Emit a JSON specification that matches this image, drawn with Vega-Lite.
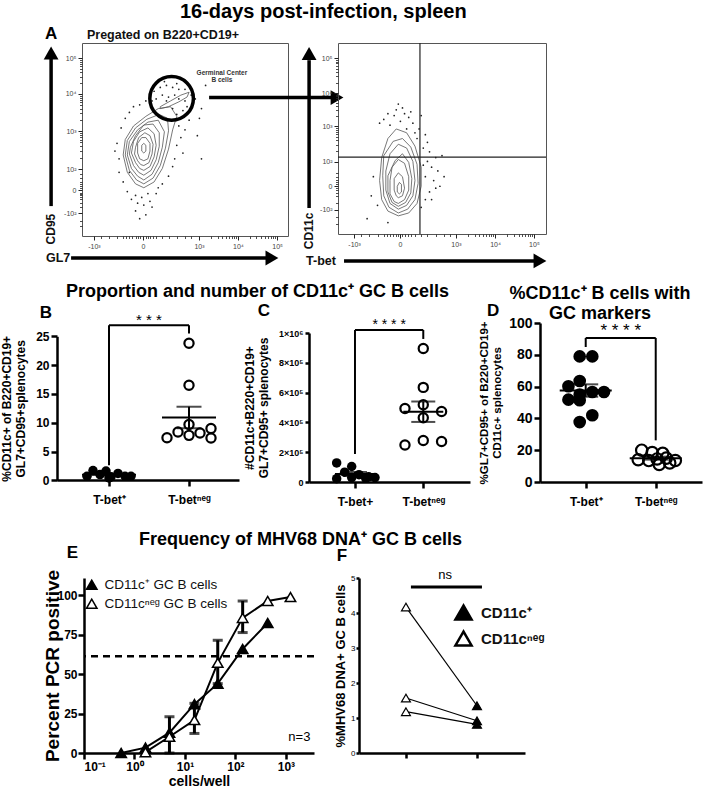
{
"$schema":"https://vega.github.io/schema/vega-lite/v6.json",
"background":"white",
"padding":{"left":0,"top":2,"right":2,"bottom":0},
"title":{"text":"16-days post-infection, spleen","fontSize":20,"fontWeight":"bold","anchor":"middle","offset":2,"dx":-28},
"spacing":13,
"resolve":{"scale":{"fill":"independent"},"legend":{"fill":"independent"}},
"datasets":{
"ringsL":[
{"r":1,"i":0,"x":30,"y":25},{"r":1,"i":1,"x":35,"y":28},{"r":1,"i":2,"x":39,"y":35},{"r":1,"i":3,"x":42,"y":45},{"r":1,"i":4,"x":44,"y":55},{"r":1,"i":5,"x":46,"y":62},{"r":1,"i":6,"x":43,"y":67},{"r":1,"i":7,"x":37,"y":66},{"r":1,"i":8,"x":31,"y":62},{"r":1,"i":9,"x":25,"y":57},{"r":1,"i":10,"x":21,"y":50},{"r":1,"i":11,"x":20,"y":42},{"r":1,"i":12,"x":22,"y":33},{"r":1,"i":13,"x":26,"y":27},{"r":1,"i":14,"x":30,"y":25},
{"r":7,"i":0,"x":30,"y":27},{"r":7,"i":1,"x":34.5,"y":30},{"r":7,"i":2,"x":38,"y":36.5},{"r":7,"i":3,"x":40.5,"y":45.5},{"r":7,"i":4,"x":42,"y":54.5},{"r":7,"i":5,"x":41.5,"y":61},{"r":7,"i":6,"x":37.5,"y":63},{"r":7,"i":7,"x":31.5,"y":60.5},{"r":7,"i":8,"x":26,"y":56},{"r":7,"i":9,"x":22,"y":49.5},{"r":7,"i":10,"x":21,"y":42},{"r":7,"i":11,"x":23,"y":34},{"r":7,"i":12,"x":26.5,"y":29},{"r":7,"i":13,"x":30,"y":27},
{"r":2,"i":0,"x":30,"y":29},{"r":2,"i":1,"x":34,"y":32},{"r":2,"i":2,"x":37,"y":38},{"r":2,"i":3,"x":39,"y":46},{"r":2,"i":4,"x":40,"y":54},{"r":2,"i":5,"x":37,"y":60},{"r":2,"i":6,"x":32,"y":59},{"r":2,"i":7,"x":27,"y":55},{"r":2,"i":8,"x":23,"y":49},{"r":2,"i":9,"x":22,"y":42},{"r":2,"i":10,"x":24,"y":35},{"r":2,"i":11,"x":27,"y":31},{"r":2,"i":12,"x":30,"y":29},
{"r":8,"i":0,"x":30,"y":31.5},{"r":8,"i":1,"x":33.5,"y":34},{"r":8,"i":2,"x":36,"y":39.5},{"r":8,"i":3,"x":37.5,"y":46.5},{"r":8,"i":4,"x":37.5,"y":53.5},{"r":8,"i":5,"x":34.5,"y":58},{"r":8,"i":6,"x":30,"y":57.5},{"r":8,"i":7,"x":26,"y":52},{"r":8,"i":8,"x":23.5,"y":46},{"r":8,"i":9,"x":23,"y":42.5},{"r":8,"i":10,"x":25,"y":36.5},{"r":8,"i":11,"x":27.5,"y":33},{"r":8,"i":12,"x":30,"y":31.5},
{"r":3,"i":0,"x":30,"y":34},{"r":3,"i":1,"x":33,"y":36},{"r":3,"i":2,"x":35,"y":41},{"r":3,"i":3,"x":36,"y":47},{"r":3,"i":4,"x":35,"y":53},{"r":3,"i":5,"x":32,"y":56},{"r":3,"i":6,"x":28,"y":54},{"r":3,"i":7,"x":25,"y":49},{"r":3,"i":8,"x":24,"y":43},{"r":3,"i":9,"x":26,"y":38},{"r":3,"i":10,"x":28,"y":35},{"r":3,"i":11,"x":30,"y":34},
{"r":9,"i":0,"x":30,"y":36.5},{"r":9,"i":1,"x":32.5,"y":38},{"r":9,"i":2,"x":34,"y":42.5},{"r":9,"i":3,"x":34.5,"y":47.5},{"r":9,"i":4,"x":33,"y":52},{"r":9,"i":5,"x":30.5,"y":53.5},{"r":9,"i":6,"x":27.5,"y":51},{"r":9,"i":7,"x":26,"y":46},{"r":9,"i":8,"x":25.5,"y":42.5},{"r":9,"i":9,"x":27,"y":39},{"r":9,"i":10,"x":28.5,"y":37},{"r":9,"i":11,"x":30,"y":36.5},
{"r":4,"i":0,"x":30,"y":39},{"r":4,"i":1,"x":32,"y":40},{"r":4,"i":2,"x":33,"y":44},{"r":4,"i":3,"x":33,"y":48},{"r":4,"i":4,"x":31,"y":51},{"r":4,"i":5,"x":29,"y":51},{"r":4,"i":6,"x":27,"y":48},{"r":4,"i":7,"x":27,"y":43},{"r":4,"i":8,"x":28,"y":40},{"r":4,"i":9,"x":30,"y":39},
{"r":5,"i":0,"x":30,"y":43},{"r":5,"i":1,"x":31,"y":44},{"r":5,"i":2,"x":31,"y":47},{"r":5,"i":3,"x":30,"y":48},{"r":5,"i":4,"x":29,"y":47},{"r":5,"i":5,"x":29,"y":44},{"r":5,"i":6,"x":30,"y":43},
{"r":6,"i":0,"x":38,"y":67},{"r":6,"i":1,"x":43,"y":70},{"r":6,"i":2,"x":48,"y":73},{"r":6,"i":3,"x":52,"y":74.5},{"r":6,"i":4,"x":51,"y":72},{"r":6,"i":5,"x":47,"y":69.5},{"r":6,"i":6,"x":42,"y":67},{"r":6,"i":7,"x":38,"y":66},{"r":6,"i":8,"x":38,"y":67}
],
"dotsL":[
{"x":18,"y":40},{"x":17,"y":48},{"x":19,"y":56},{"x":21,"y":61},{"x":23,"y":64},{"x":25,"y":67},{"x":28,"y":68},{"x":31,"y":70},{"x":33,"y":73},{"x":35,"y":75},{"x":38,"y":77},{"x":41,"y":78},{"x":44,"y":77},{"x":47,"y":76},{"x":50,"y":76},{"x":53,"y":73},{"x":55,"y":71},{"x":54,"y":68},{"x":51,"y":67},{"x":49,"y":65},{"x":46,"y":63},{"x":44,"y":60},{"x":47,"y":57},{"x":50,"y":55},{"x":48,"y":51},{"x":46,"y":47},{"x":49,"y":43},{"x":45,"y":40},{"x":44,"y":36},{"x":42,"y":31},{"x":39,"y":27},{"x":36,"y":22},{"x":33,"y":18},{"x":30,"y":16},{"x":27,"y":17},{"x":24,"y":19},{"x":22,"y":23},{"x":20,"y":28},{"x":26,"y":13},{"x":31,"y":11},{"x":28,"y":9},{"x":34,"y":15},{"x":57,"y":61},{"x":60,"y":78},{"x":56,"y":52},{"x":40,"y":80},{"x":36,"y":79},{"x":23,"y":33},{"x":18,"y":33},{"x":16,"y":44},{"x":52,"y":60},{"x":58,"y":66},{"x":39,"y":73},{"x":45,"y":73},{"x":42,"y":72},{"x":47,"y":71},{"x":50,"y":70},{"x":36,"y":71},{"x":34,"y":70},{"x":44,"y":66},{"x":58,"y":40},{"x":29,"y":20},{"x":32,"y":22},{"x":26,"y":21},{"x":37,"y":25},{"x":41,"y":70},{"x":53,"y":76},{"x":46,"y":79}
],
"ringsR":[
{"r":1,"i":0,"x":29,"y":9.5},{"r":1,"i":1,"x":34,"y":11},{"r":1,"i":2,"x":38,"y":16},{"r":1,"i":3,"x":40,"y":25},{"r":1,"i":4,"x":40,"y":35},{"r":1,"i":5,"x":37,"y":46},{"r":1,"i":6,"x":33,"y":53},{"r":1,"i":7,"x":28,"y":55},{"r":1,"i":8,"x":24,"y":50},{"r":1,"i":9,"x":21,"y":40},{"r":1,"i":10,"x":20,"y":28},{"r":1,"i":11,"x":21,"y":18},{"r":1,"i":12,"x":24,"y":12},{"r":1,"i":13,"x":29,"y":9.5},
{"r":6,"i":0,"x":29,"y":11},{"r":6,"i":1,"x":33.5,"y":13},{"r":6,"i":2,"x":37,"y":18},{"r":6,"i":3,"x":38.5,"y":26.5},{"r":6,"i":4,"x":38,"y":36.5},{"r":6,"i":5,"x":35,"y":45.5},{"r":6,"i":6,"x":31,"y":50},{"r":6,"i":7,"x":26.5,"y":48.5},{"r":6,"i":8,"x":22,"y":41},{"r":6,"i":9,"x":21.5,"y":30.5},{"r":6,"i":10,"x":22,"y":20},{"r":6,"i":11,"x":24.5,"y":14},{"r":6,"i":12,"x":29,"y":11},
{"r":2,"i":0,"x":29,"y":13},{"r":2,"i":1,"x":33,"y":15},{"r":2,"i":2,"x":36,"y":20},{"r":2,"i":3,"x":37,"y":28},{"r":2,"i":4,"x":36,"y":38},{"r":2,"i":5,"x":33,"y":45},{"r":2,"i":6,"x":29,"y":47},{"r":2,"i":7,"x":25,"y":42},{"r":2,"i":8,"x":23,"y":33},{"r":2,"i":9,"x":23,"y":23},{"r":2,"i":10,"x":25,"y":16},{"r":2,"i":11,"x":29,"y":13},
{"r":7,"i":0,"x":29,"y":14.5},{"r":7,"i":1,"x":32.5,"y":16.5},{"r":7,"i":2,"x":35,"y":21.5},{"r":7,"i":3,"x":35.5,"y":29},{"r":7,"i":4,"x":34,"y":37.5},{"r":7,"i":5,"x":31,"y":42},{"r":7,"i":6,"x":27.5,"y":38.5},{"r":7,"i":7,"x":24,"y":30.5},{"r":7,"i":8,"x":24,"y":22},{"r":7,"i":9,"x":26,"y":16.5},{"r":7,"i":10,"x":29,"y":14.5},
{"r":3,"i":0,"x":29,"y":16},{"r":3,"i":1,"x":32,"y":18},{"r":3,"i":2,"x":34,"y":23},{"r":3,"i":3,"x":34,"y":30},{"r":3,"i":4,"x":32,"y":37},{"r":3,"i":5,"x":29,"y":39},{"r":3,"i":6,"x":26,"y":35},{"r":3,"i":7,"x":25,"y":28},{"r":3,"i":8,"x":25,"y":21},{"r":3,"i":9,"x":27,"y":17},{"r":3,"i":10,"x":29,"y":16},
{"r":4,"i":0,"x":29,"y":19},{"r":4,"i":1,"x":31,"y":20},{"r":4,"i":2,"x":32,"y":24},{"r":4,"i":3,"x":31,"y":30},{"r":4,"i":4,"x":29,"y":32},{"r":4,"i":5,"x":27,"y":29},{"r":4,"i":6,"x":27,"y":23},{"r":4,"i":7,"x":28,"y":20},{"r":4,"i":8,"x":29,"y":19},
{"r":5,"i":0,"x":29.5,"y":21},{"r":5,"i":1,"x":30.5,"y":22},{"r":5,"i":2,"x":30.5,"y":26},{"r":5,"i":3,"x":29.5,"y":27},{"r":5,"i":4,"x":28.5,"y":25},{"r":5,"i":5,"x":28.5,"y":22},{"r":5,"i":6,"x":29.5,"y":21}
],
"dotsR":[
{"x":25,"y":57},{"x":27,"y":62},{"x":22,"y":60},{"x":30,"y":59},{"x":33,"y":55},{"x":36,"y":58},{"x":38,"y":50},{"x":41,"y":45},{"x":43,"y":38},{"x":45,"y":35},{"x":48,"y":33},{"x":42,"y":30},{"x":46,"y":28},{"x":44,"y":22},{"x":49,"y":25},{"x":51,"y":30},{"x":40,"y":62},{"x":35,"y":64},{"x":31,"y":66},{"x":19,"y":15},{"x":17,"y":30},{"x":45,"y":18},{"x":47,"y":40},{"x":50,"y":41},{"x":43,"y":48},{"x":39,"y":55},{"x":24,"y":6},{"x":16,"y":20},{"x":14,"y":8},{"x":20,"y":58},{"x":28,"y":65},{"x":24,"y":63},{"x":34,"y":61},{"x":37,"y":53},{"x":42,"y":52},{"x":44,"y":43},{"x":41,"y":36},{"x":47,"y":24},{"x":42,"y":18},{"x":40,"y":14},{"x":29,"y":68},{"x":32,"y":63}
],
"B":[
{"g":1,"x":0.725,"v":0.7},{"g":1,"x":0.8,"v":1.7},{"g":1,"x":0.8875,"v":1.0},{"g":1,"x":0.9625,"v":1.6},{"g":1,"x":1.025,"v":0.6},{"g":1,"x":1.0,"v":0.4},{"g":1,"x":1.1125,"v":1.2},{"g":1,"x":1.2,"v":0.7},{"g":1,"x":1.275,"v":0.7},
{"g":2,"x":2,"v":23.8},{"g":2,"x":2,"v":16.5},{"g":2,"x":2,"v":9.7},{"g":2,"x":1.725,"v":7.4},{"g":2,"x":1.8625,"v":8.4},{"g":2,"x":2,"v":7.8},{"g":2,"x":2.1375,"v":8.2},{"g":2,"x":2.275,"v":9.0},{"g":2,"x":2.275,"v":7.35}
],
"C":[
{"g":1,"x":0.732,"v":128000},{"g":1,"x":0.849,"v":66000},{"g":1,"x":0.952,"v":104000},{"g":1,"x":0.732,"v":22000},{"g":1,"x":0.952,"v":30000},{"g":1,"x":1.059,"v":49000},{"g":1,"x":1.157,"v":25000},{"g":1,"x":1.293,"v":30000},{"g":1,"x":1.2,"v":35000},
{"g":2,"x":2,"v":896000},{"g":2,"x":2,"v":635000},{"g":2,"x":1.732,"v":493000},{"g":2,"x":2,"v":518000},{"g":2,"x":2.268,"v":473000},{"g":2,"x":2,"v":431000},{"g":2,"x":1.732,"v":248000},{"g":2,"x":2,"v":279000},{"g":2,"x":2.268,"v":272000}
],
"D":[
{"g":1,"x":0.914,"v":79},{"g":1,"x":1.094,"v":79},{"g":1,"x":0.914,"v":63.5},{"g":1,"x":0.753,"v":60.2},{"g":1,"x":0.753,"v":51.8},{"g":1,"x":0.914,"v":51.4},{"g":1,"x":1.094,"v":56.6},{"g":1,"x":1.261,"v":56.6},{"g":1,"x":1.094,"v":42},{"g":1,"x":0.914,"v":37.7},{"g":1,"x":0.914,"v":55},
{"g":2,"x":1.8,"v":20},{"g":2,"x":1.95,"v":18.5},{"g":2,"x":2.1,"v":18},{"g":2,"x":1.75,"v":14},{"g":2,"x":1.9,"v":13.5},{"g":2,"x":2.02,"v":14.5},{"g":2,"x":2.15,"v":15},{"g":2,"x":2.28,"v":13.5},{"g":2,"x":2.05,"v":11},{"g":2,"x":2.2,"v":12}
],
"E":[
{"s":"CD11c⁺ GC B cells","x":0.545,"y":0},{"s":"CD11c⁺ GC B cells","x":1.65,"y":3.4},{"s":"CD11c⁺ GC B cells","x":4.93,"y":12.9},{"s":"CD11c⁺ GC B cells","x":15.4,"y":31},{"s":"CD11c⁺ GC B cells","x":44.6,"y":44},{"s":"CD11c⁺ GC B cells","x":139,"y":66},{"s":"CD11c⁺ GC B cells","x":436,"y":82.5},
{"s":"CD11cⁿᵉᵍ GC B cells","x":1.65,"y":0.5},{"s":"CD11cⁿᵉᵍ GC B cells","x":4.93,"y":10.3},{"s":"CD11cⁿᵉᵍ GC B cells","x":15.4,"y":20.9},{"s":"CD11cⁿᵉᵍ GC B cells","x":44.6,"y":57.2},{"s":"CD11cⁿᵉᵍ GC B cells","x":139,"y":85.7},{"s":"CD11cⁿᵉᵍ GC B cells","x":436,"y":96.4},{"s":"CD11cⁿᵉᵍ GC B cells","x":1230,"y":98.9}
],
"Eerr":[{"x":4.93,"lo":0,"hi":23},{"x":15.4,"lo":12.4,"hi":31.5},{"x":44.6,"lo":44,"hi":71.5},{"x":139,"lo":76.4,"hi":96.4}],
"F":[
{"p":"a","x":1,"y":4.17,"s":"CD11cⁿᵉᵍ"},{"p":"a","x":2,"y":1.35,"s":"CD11c⁺"},
{"p":"b","x":1,"y":1.57,"s":"CD11cⁿᵉᵍ"},{"p":"b","x":2,"y":0.92,"s":"CD11c⁺"},
{"p":"c","x":1,"y":1.18,"s":"CD11cⁿᵉᵍ"},{"p":"c","x":2,"y":0.82,"s":"CD11c⁺"}
]
},
"vconcat":[
{"hconcat":[
 {"width":1,"height":1,"data":{"values":[]},"mark":"point","encoding":{}},
 {"hconcat":[
  {"width":206,"height":193,
   "view":{"stroke":"#555","strokeWidth":1},
   "resolve":{"axis":{"x":"independent","y":"independent"}},
   "layer":[
    {"data":{"name":"ringsL"},"mark":{"type":"line","stroke":"#555","strokeWidth":0.8},
     "encoding":{
      "x":{"field":"x","type":"quantitative","scale":{"domain":[0,100],"nice":false,"zero":false},"axis":{"orient":"bottom","values":[5.8,29.6,56.8,75.7,94.7],"labelExpr":"datum.value<10?'-10³':datum.value<40?'0':datum.value<60?'10³':datum.value<80?'10⁴':'10⁵'","title":null,"domain":false,"tickSize":4,"tickWidth":1,"tickColor":"#222","labelFontSize":7,"labelFontWeight":"normal","labelColor":"#444","labelPadding":2}},
      "y":{"field":"y","type":"quantitative","scale":{"domain":[0,100],"nice":false,"zero":false},"axis":{"orient":"left","values":[11.9,23.8,34.7,54.4,73.6,92.2],"labelExpr":"datum.value<15?'-10²':datum.value<30?'0':datum.value<40?'10²':datum.value<60?'10³':datum.value<80?'10⁴':'10⁵'","title":null,"domain":false,"tickSize":4,"tickWidth":1,"tickColor":"#222","labelFontSize":7,"labelFontWeight":"normal","labelColor":"#444","labelPadding":2}},
      "detail":{"field":"r","type":"nominal"},
      "order":{"field":"i","type":"quantitative"}}},
    {"data":{"name":"dotsL"},"mark":{"type":"point","shape":"circle","size":3,"filled":true,"color":"#222","opacity":1},
     "encoding":{
      "x":{"field":"x","type":"quantitative","axis":{"orient":"bottom","values":[9,13,17,20,21.5,23,24.5,26,27,28,31,32,33,34.5,36,39,42,46,50,53,62.5,65.8,68.2,70,71.5,72.8,73.9,74.8,81.4,84.7,87.1,88.9,90.4,91.7,92.8,93.7],"labels":false,"title":null,"domain":false,"tickSize":2.5,"tickWidth":0.8,"tickColor":"#222"}},
      "y":{"field":"y","type":"quantitative","axis":{"orient":"left","values":[5,8,15,17,19,20,21,22,22.5,25,26,27,28,30,32,40.6,44.1,46.6,48.5,50,51.3,52.5,53.5,60.2,63.6,66,67.8,69.3,70.6,71.7,72.7,79.2,82.5,84.8,86.6,88.1,89.3,90.4,91.3],"labels":false,"title":null,"domain":false,"tickSize":2.5,"tickWidth":0.8,"tickColor":"#222"}}}},
    {"data":{"values":[{"x":43.5,"y":71.3}]},"mark":{"type":"point","shape":"circle","size":1900,"filled":false,"stroke":"black","strokeWidth":3.5,"opacity":1},
     "encoding":{"x":{"field":"x","type":"quantitative","axis":null},"y":{"field":"y","type":"quantitative","axis":null}}},
    {"data":{"values":[{"x":61.7,"y":71.7,"x2":123,"y2":71.7},{"x":-15,"y":15.5,"x2":-15,"y2":93},{"x":-5.3,"y":-11.4,"x2":91,"y2":-11.4}]},"mark":{"type":"rule","strokeWidth":3.5,"color":"black"},
     "encoding":{"x":{"field":"x","type":"quantitative","axis":null},"y":{"field":"y","type":"quantitative","axis":null},"x2":{"field":"x2"},"y2":{"field":"y2"}}},
    {"data":{"values":[{"x":123.8,"y":71.7},{"x":92.2,"y":-11.4}]},"mark":{"type":"point","shape":"triangle-right","size":220,"filled":true,"color":"black","opacity":1},
     "encoding":{"x":{"field":"x","type":"quantitative","axis":null},"y":{"field":"y","type":"quantitative","axis":null}}},
    {"data":{"values":[{"x":-15,"y":94.8}]},"mark":{"type":"point","shape":"triangle-up","size":220,"filled":true,"color":"black","opacity":1},
     "encoding":{"x":{"field":"x","type":"quantitative","axis":null},"y":{"field":"y","type":"quantitative","axis":null}}},
    {"data":{"values":[{"x":-15,"y":104.7,"t":"A"}]},"mark":{"type":"text","fontSize":17,"fontWeight":"bold","align":"center","baseline":"middle"},
     "encoding":{"x":{"field":"x","type":"quantitative","axis":null},"y":{"field":"y","type":"quantitative","axis":null},"text":{"field":"t"}}},
    {"data":{"values":[{"x":2.4,"y":104,"t":"Pregated on B220+CD19+"},{"x":-17.5,"y":-11.4,"t":"GL7"}]},"mark":{"type":"text","fontSize":12.5,"fontWeight":"bold","align":"left","baseline":"middle","color":"#111"},
     "encoding":{"x":{"field":"x","type":"quantitative","axis":null},"y":{"field":"y","type":"quantitative","axis":null},"text":{"field":"t"}}},
    {"data":{"values":[{"x":-15,"y":3.6,"t":"CD95"}]},"mark":{"type":"text","fontSize":12,"fontWeight":"bold","align":"center","baseline":"middle","angle":270,"color":"#111"},
     "encoding":{"x":{"field":"x","type":"quantitative","axis":null},"y":{"field":"y","type":"quantitative","axis":null},"text":{"field":"t"}}},
    {"data":{"values":[{"x":67.9,"y":84.6,"t":"Germinal Center"},{"x":67.9,"y":80.9,"t":"B cells"}]},"mark":{"type":"text","fontSize":6.5,"fontWeight":"bold","align":"center","baseline":"middle","color":"#333"},
     "encoding":{"x":{"field":"x","type":"quantitative","axis":null},"y":{"field":"y","type":"quantitative","axis":null},"text":{"field":"t"}}}
   ]},
  {"width":208,"height":191,
   "view":{"stroke":"#555","strokeWidth":1},
   "resolve":{"axis":{"x":"independent","y":"independent"}},
   "layer":[
    {"data":{"name":"ringsR"},"mark":{"type":"line","stroke":"#555","strokeWidth":0.8},
     "encoding":{
      "x":{"field":"x","type":"quantitative","scale":{"domain":[0,100],"nice":false,"zero":false},"axis":{"orient":"bottom","values":[7.7,29.8,56.7,75.5,94.2],"labelExpr":"datum.value<10?'-10³':datum.value<40?'0':datum.value<60?'10³':datum.value<80?'10⁴':'10⁵'","title":null,"domain":false,"tickSize":4,"tickWidth":1,"tickColor":"#222","labelFontSize":7,"labelFontWeight":"normal","labelColor":"#444","labelPadding":2}},
      "y":{"field":"y","type":"quantitative","scale":{"domain":[0,100],"nice":false,"zero":false},"axis":{"orient":"left","values":[12.6,25.1,37.7,56.5,73.8,92.1],"labelExpr":"datum.value<15?'-10²':datum.value<30?'0':datum.value<40?'10²':datum.value<60?'10³':datum.value<80?'10⁴':'10⁵'","title":null,"domain":false,"tickSize":4,"tickWidth":1,"tickColor":"#222","labelFontSize":7,"labelFontWeight":"normal","labelColor":"#444","labelPadding":2}},
      "detail":{"field":"r","type":"nominal"},
      "order":{"field":"i","type":"quantitative"}}},
    {"data":{"name":"dotsR"},"mark":{"type":"point","shape":"circle","size":3,"filled":true,"color":"#222","opacity":1},
     "encoding":{
      "x":{"field":"x","type":"quantitative","axis":{"orient":"bottom","values":[11,15,19,22,23.5,25,26.5,28,29,31,32,33.5,35,37,40,43,47,51,54,62.4,65.7,68,69.8,71.3,72.6,73.7,74.6,81.1,84.4,86.8,88.6,90,91.3,92.4,93.3],"labels":false,"title":null,"domain":false,"tickSize":2.5,"tickWidth":0.8,"tickColor":"#222"}},
      "y":{"field":"y","type":"quantitative","axis":{"orient":"left","values":[5,9,16,20,21.5,23,24,26,27,28.5,30,32,43.4,46.7,49,50.8,52.3,53.6,54.7,55.7,61.7,64.8,66.9,68.6,70,71.1,72.1,73,79.3,82.5,84.8,86.6,88,89.3,90.3,91.2],"labels":false,"title":null,"domain":false,"tickSize":2.5,"tickWidth":0.8,"tickColor":"#222"}}}},
    {"data":{"values":[{}]},"mark":{"type":"rule","color":"#222","strokeWidth":1.2},"encoding":{"x":{"datum":39.4,"type":"quantitative","axis":null}}},
    {"data":{"values":[{}]},"mark":{"type":"rule","color":"#222","strokeWidth":1.2},"encoding":{"y":{"datum":40.3,"type":"quantitative","axis":null}}},
    {"data":{"values":[{"x":-13.9,"y":13.6,"x2":-13.9,"y2":91},{"x":2.9,"y":-14.1,"x2":95.5,"y2":-14.1}]},"mark":{"type":"rule","strokeWidth":3.5,"color":"black"},
     "encoding":{"x":{"field":"x","type":"quantitative","axis":null},"y":{"field":"y","type":"quantitative","axis":null},"x2":{"field":"x2"},"y2":{"field":"y2"}}},
    {"data":{"values":[{"x":97.1,"y":-14.1}]},"mark":{"type":"point","shape":"triangle-right","size":220,"filled":true,"color":"black","opacity":1},
     "encoding":{"x":{"field":"x","type":"quantitative","axis":null},"y":{"field":"y","type":"quantitative","axis":null}}},
    {"data":{"values":[{"x":-13.9,"y":94.5}]},"mark":{"type":"point","shape":"triangle-up","size":220,"filled":true,"color":"black","opacity":1},
     "encoding":{"x":{"field":"x","type":"quantitative","axis":null},"y":{"field":"y","type":"quantitative","axis":null}}},
    {"data":{"values":[{"x":-8.2,"y":-14.1,"t":"T-bet"}]},"mark":{"type":"text","fontSize":12.5,"fontWeight":"bold","align":"center","baseline":"middle","color":"#111"},
     "encoding":{"x":{"field":"x","type":"quantitative","axis":null},"y":{"field":"y","type":"quantitative","axis":null},"text":{"field":"t"}}},
    {"data":{"values":[{"x":-13.9,"y":1.6,"t":"CD11c"}]},"mark":{"type":"text","fontSize":12,"fontWeight":"bold","align":"center","baseline":"middle","angle":270,"color":"#111"},
     "encoding":{"x":{"field":"x","type":"quantitative","axis":null},"y":{"field":"y","type":"quantitative","axis":null},"text":{"field":"t"}}}
   ]}
 ],"spacing":50,"bounds":"flush"}
],"spacing":24,"bounds":"flush"},
{"hconcat":[
 {"width":182,"height":159,
  "title":{"text":"Proportion and number of CD11c⁺ GC B cells","anchor":"start","frame":"group","fontSize":18,"dx":9,"offset":3.7},
  "resolve":{"axis":{"x":"independent","y":"independent"}},
  "layer":[
   {"data":{"name":"B"},"transform":[{"filter":"datum.g==1"}],"mark":{"type":"point","filled":true,"color":"black","size":90,"opacity":1},
    "encoding":{
     "x":{"field":"x","type":"quantitative","scale":{"domain":[0.35,2.625],"nice":false,"zero":false},"axis":{"values":[1,2],"labelExpr":"datum.value==1?'T-bet⁺':'T-betⁿᵉᵍ'","title":null,"labelPadding":8,"offset":-2}},
     "y":{"field":"v","type":"quantitative","scale":{"domain":[0,25],"range":[157.3,13.3],"nice":false},"axis":{"values":[0,5,10,15,20,25],"title":["%CD11c+ of B220+CD19+","GL7+CD95+splenocytes"],"titlePadding":8}}}},
   {"data":{"name":"B"},"transform":[{"filter":"datum.g==2"}],"mark":{"type":"point","filled":false,"color":"black","strokeWidth":2.2,"size":85,"opacity":1},
    "encoding":{"x":{"field":"x","type":"quantitative","axis":null},"y":{"field":"v","type":"quantitative","axis":null}}},
   {"data":{"name":"B"},"mark":{"type":"tick","orient":"horizontal","size":54,"thickness":2,"color":"black"},
    "encoding":{"x":{"field":"g","type":"quantitative","axis":null},"y":{"aggregate":"mean","field":"v","type":"quantitative","axis":null}}},
   {"data":{"name":"B"},"mark":{"type":"errorbar","extent":"stderr","orient":"vertical","color":"black","ticks":{"size":25,"thickness":2},"rule":{"strokeWidth":2}},
    "encoding":{"x":{"field":"g","type":"quantitative","axis":null},"y":{"field":"v","type":"quantitative","axis":null}}},
   {"data":{"values":[{"x":1,"y":2.6,"x2":1,"y2":26.9},{"x":1,"y":26.9,"x2":2,"y2":26.9},{"x":2,"y":26.9,"x2":2,"y2":25.5}]},"mark":{"type":"rule","strokeWidth":2,"color":"black"},
    "encoding":{"x":{"field":"x","type":"quantitative","axis":null},"y":{"field":"y","type":"quantitative","axis":null},"x2":{"field":"x2"},"y2":{"field":"y2"}}},
   {"data":{"values":[{"x":1.5,"y":26.9,"t":"* * *"}]},"mark":{"type":"text","fontSize":15,"align":"center","baseline":"alphabetic"},
    "encoding":{"x":{"field":"x","type":"quantitative","axis":null},"y":{"field":"y","type":"quantitative","axis":null},"text":{"field":"t"}}},
   {"data":{"values":[{"x":0.2125,"y":29,"t":"B"}]},"mark":{"type":"text","fontSize":17,"fontWeight":"bold","align":"center","baseline":"middle"},
    "encoding":{"x":{"field":"x","type":"quantitative","axis":null},"y":{"field":"y","type":"quantitative","axis":null},"text":{"field":"t"}}}
  ]},
 {"width":161,"height":159,
  "resolve":{"axis":{"x":"independent","y":"independent"}},
  "layer":[
   {"data":{"name":"C"},"transform":[{"filter":"datum.g==1"}],"mark":{"type":"point","filled":true,"color":"black","size":90,"opacity":1},
    "encoding":{
     "x":{"field":"x","type":"quantitative","scale":{"domain":[0.327,2.684],"nice":false,"zero":false},"axis":{"values":[1,2],"labelExpr":"datum.value==1?'T-bet+':'T-betⁿᵉᵍ'","title":null,"labelPadding":8}},
     "y":{"field":"v","type":"quantitative","scale":{"domain":[0,1000000],"range":[159,10],"nice":false},"axis":{"values":[0,200000,400000,600000,800000,1000000],"labelExpr":"datum.value==0?'0':datum.value==1000000?'1×10⁶':(datum.value/100000)+'×10⁵'","labelFontSize":9,"tickSize":4,"title":["#CD11c+B220+CD19+","GL7+CD95+ splenocytes"],"titlePadding":8}}}},
   {"data":{"name":"C"},"transform":[{"filter":"datum.g==2"}],"mark":{"type":"point","filled":false,"color":"black","strokeWidth":2.2,"size":85,"opacity":1},
    "encoding":{"x":{"field":"x","type":"quantitative","axis":null},"y":{"field":"v","type":"quantitative","axis":null}}},
   {"data":{"name":"C"},"mark":{"type":"tick","orient":"horizontal","size":40,"thickness":2,"color":"black"},
    "encoding":{"x":{"field":"g","type":"quantitative","axis":null},"y":{"aggregate":"mean","field":"v","type":"quantitative","axis":null}}},
   {"data":{"name":"C"},"mark":{"type":"errorbar","extent":"stderr","orient":"vertical","color":"black","ticks":{"size":24,"thickness":2},"rule":{"strokeWidth":2}},
    "encoding":{"x":{"field":"g","type":"quantitative","axis":null},"y":{"field":"v","type":"quantitative","axis":null}}},
   {"data":{"values":[{"x":1,"y":188000,"x2":1,"y2":1020000},{"x":1,"y":1020000,"x2":2,"y2":1020000},{"x":2,"y":1020000,"x2":2,"y2":960000}]},"mark":{"type":"rule","strokeWidth":2,"color":"black"},
    "encoding":{"x":{"field":"x","type":"quantitative","axis":null},"y":{"field":"y","type":"quantitative","axis":null},"x2":{"field":"x2"},"y2":{"field":"y2"}}},
   {"data":{"values":[{"x":1.5,"y":1025000,"t":"* * * *"}]},"mark":{"type":"text","fontSize":14,"align":"center","baseline":"alphabetic"},
    "encoding":{"x":{"field":"x","type":"quantitative","axis":null},"y":{"field":"y","type":"quantitative","axis":null},"text":{"field":"t"}}},
   {"data":{"values":[{"x":-0.332,"y":1146000,"t":"C"}]},"mark":{"type":"text","fontSize":17,"fontWeight":"bold","align":"center","baseline":"middle"},
    "encoding":{"x":{"field":"x","type":"quantitative","axis":null},"y":{"field":"y","type":"quantitative","axis":null},"text":{"field":"t"}}}
  ]},
 {"width":162,"height":159,
  "title":{"text":["%CD11c⁺ B cells with","GC markers"],"anchor":"middle","frame":"group","fontSize":18,"dx":-21,"offset":-21.1,"lineHeight":20},
  "resolve":{"axis":{"x":"independent","y":"independent"}},
  "layer":[
   {"data":{"name":"D"},"transform":[{"filter":"datum.g==1"}],"mark":{"type":"point","filled":true,"color":"black","size":160,"opacity":1},
    "encoding":{
     "x":{"field":"x","type":"quantitative","scale":{"domain":[0.347,2.661],"nice":false,"zero":false},"axis":{"values":[1,2],"labelExpr":"datum.value==1?'T-bet⁺':'T-betⁿᵉᵍ'","title":" ","titleFontSize":10,"titlePadding":0,"labelPadding":8}},
     "y":{"field":"v","type":"quantitative","scale":{"domain":[0,100],"nice":false},"axis":{"values":[0,20,40,60,80,100],"labelFontSize":14,"title":["%GL7+CD95+ of B220+CD19+","CD11c+ splenocytes"],"titleFontSize":11.5,"titlePadding":6}}}},
   {"data":{"name":"D"},"transform":[{"filter":"datum.g==2"}],"mark":{"type":"point","filled":false,"color":"black","strokeWidth":2.2,"size":130,"opacity":1},
    "encoding":{"x":{"field":"x","type":"quantitative","axis":null},"y":{"field":"v","type":"quantitative","axis":null}}},
   {"data":{"name":"D"},"mark":{"type":"tick","orient":"horizontal","size":52,"thickness":2,"color":"black"},
    "encoding":{"x":{"field":"g","type":"quantitative","axis":null},"y":{"aggregate":"mean","field":"v","type":"quantitative","axis":null}}},
   {"data":{"name":"D"},"mark":{"type":"errorbar","extent":"stderr","orient":"vertical","color":"black","ticks":{"size":25,"thickness":2},"rule":{"strokeWidth":2}},
    "encoding":{"x":{"field":"g","type":"quantitative","axis":null},"y":{"field":"v","type":"quantitative","axis":null}}},
   {"data":{"values":[{"x":1,"y":84.9,"x2":1,"y2":90.6},{"x":1,"y":90.6,"x2":2,"y2":90.6},{"x":2,"y":90.6,"x2":2,"y2":26.2}]},"mark":{"type":"rule","strokeWidth":2,"color":"black"},
    "encoding":{"x":{"field":"x","type":"quantitative","axis":null},"y":{"field":"y","type":"quantitative","axis":null},"x2":{"field":"x2"},"y2":{"field":"y2"}}},
   {"data":{"values":[{"x":1.5,"y":91.8,"t":"* * * *"}]},"mark":{"type":"text","fontSize":17,"align":"center","baseline":"alphabetic"},
    "encoding":{"x":{"field":"x","type":"quantitative","axis":null},"y":{"field":"y","type":"quantitative","axis":null},"text":{"field":"t"}}},
   {"data":{"values":[{"x":-0.324,"y":107.4,"t":"D"}]},"mark":{"type":"text","fontSize":17,"fontWeight":"bold","align":"center","baseline":"middle"},
    "encoding":{"x":{"field":"x","type":"quantitative","axis":null},"y":{"field":"y","type":"quantitative","axis":null},"text":{"field":"t"}}}
  ]}
],"spacing":70,"bounds":"flush"},
{"hconcat":[
 {"width":1,"height":1,"data":{"values":[]},"mark":"point","encoding":{}},
 {"hconcat":[
  {"width":230,"height":175,
   "title":{"text":"Frequency of MHV68 DNA⁺ GC B cells","anchor":"start","frame":"group","fontSize":18,"dx":55,"offset":-5},
   "resolve":{"axis":{"x":"independent","y":"independent"}},
   "layer":[
    {"data":{"values":[{}]},"mark":{"type":"rule","strokeDash":[7,5],"strokeWidth":2.5,"color":"black"},"encoding":{"y":{"datum":61.4,"type":"quantitative","axis":null}}},
    {"data":{"name":"E"},"mark":{"type":"line","color":"black","strokeWidth":2},
     "encoding":{
      "x":{"field":"x","type":"quantitative","scale":{"type":"log","domain":[0.1,3600],"nice":false},"axis":{"values":[0.1,1,10,100,1000],"labelExpr":"datum.value<0.5?'10⁻¹':datum.value<5?'10⁰':datum.value<50?'10¹':datum.value<500?'10²':'10³'","title":"cells/well","titleFontSize":14,"titlePadding":2,"labelPadding":2,"labelFontSize":12}},
      "y":{"field":"y","type":"quantitative","scale":{"domain":[0,111],"nice":false},"axis":{"values":[0,25,50,75,100],"title":"Percent PCR positive","titleFontSize":19,"titlePadding":-6,"labelPadding":1,"labelFontSize":12}},
      "detail":{"field":"s","type":"nominal"}}},
    {"data":{"name":"Eerr"},"mark":{"type":"errorbar","color":"black","ticks":{"size":10,"thickness":3},"rule":{"strokeWidth":3}},
     "encoding":{"x":{"field":"x","type":"quantitative","axis":null},"y":{"field":"lo","type":"quantitative","axis":null},"y2":{"field":"hi"}}},
    {"data":{"name":"E"},"mark":{"type":"point","shape":"triangle-up","size":110,"stroke":"black","strokeWidth":1.5,"filled":true,"opacity":1},
     "encoding":{"x":{"field":"x","type":"quantitative","axis":null},"y":{"field":"y","type":"quantitative","axis":null},
      "fill":{"field":"s","type":"nominal","scale":{"domain":["CD11c⁺ GC B cells","CD11cⁿᵉᵍ GC B cells"],"range":["black","white"]},
       "legend":{"orient":"none","legendX":1,"legendY":0,"title":null,"symbolSize":110,"symbolStrokeColor":"black","symbolStrokeWidth":1.5,"labelFontSize":13.5,"labelFontWeight":"normal","labelColor":"#111","rowPadding":3,"labelOffset":6}}}},
    {"data":{"values":[{"x":1850,"y":10.1,"t":"n=3"}]},"mark":{"type":"text","fontSize":13,"align":"center","baseline":"middle"},
     "encoding":{"x":{"field":"x","type":"quantitative","axis":null},"y":{"field":"y","type":"quantitative","axis":null},"text":{"field":"t"}}},
    {"data":{"values":[{"x":0.059,"y":127,"t":"E"}]},"mark":{"type":"text","fontSize":17,"fontWeight":"bold","align":"center","baseline":"middle"},
     "encoding":{"x":{"field":"x","type":"quantitative","axis":null},"y":{"field":"y","type":"quantitative","axis":null},"text":{"field":"t"}}}
   ]},
  {"width":166,"height":175,
   "resolve":{"axis":{"x":"independent","y":"independent"}},
   "layer":[
    {"data":{"name":"F"},"mark":{"type":"line","color":"black","strokeWidth":1.2},
     "encoding":{
      "x":{"field":"x","type":"quantitative","scale":{"domain":[0.339,2.676],"nice":false,"zero":false},"axis":{"values":[1,2],"labels":false,"title":null,"tickSize":5}},
      "y":{"field":"y","type":"quantitative","scale":{"domain":[0,5],"nice":false},"axis":{"values":[0,1,2,3,4,5],"labelFontSize":8,"labelFontWeight":"normal","labelPadding":1,"tickSize":3,"title":"%MHV68 DNA+ GC B cells","titleFontSize":13,"titlePadding":3}},
      "detail":{"field":"p","type":"nominal"}}},
    {"data":{"name":"F"},"mark":{"type":"point","shape":"triangle-up","size":80,"stroke":"black","strokeWidth":1.2,"filled":true,"opacity":1},
     "encoding":{"x":{"field":"x","type":"quantitative","axis":null},"y":{"field":"y","type":"quantitative","axis":null},
      "fill":{"field":"s","type":"nominal","scale":{"domain":["CD11c⁺","CD11cⁿᵉᵍ"],"range":["black","white"]},
       "legend":{"orient":"none","legendX":95,"legendY":25,"title":null,"symbolSize":260,"symbolStrokeColor":"black","symbolStrokeWidth":2.5,"labelFontSize":15,"labelFontWeight":"bold","labelColor":"#111","rowPadding":1,"labelOffset":8}}}},
    {"data":{"values":[{"x":1.07,"y":4.74,"x2":2.07,"y2":4.74}]},"mark":{"type":"rule","strokeWidth":3,"color":"black"},
     "encoding":{"x":{"field":"x","type":"quantitative","axis":null},"y":{"field":"y","type":"quantitative","axis":null},"x2":{"field":"x2"},"y2":{"field":"y2"}}},
    {"data":{"values":[{"x":1.55,"y":5.1,"t":"ns"}]},"mark":{"type":"text","fontSize":13,"align":"center","baseline":"middle"},
     "encoding":{"x":{"field":"x","type":"quantitative","axis":null},"y":{"field":"y","type":"quantitative","axis":null},"text":{"field":"t"}}},
    {"data":{"values":[{"x":0.1,"y":5.62,"t":"F"}]},"mark":{"type":"text","fontSize":17,"fontWeight":"bold","align":"center","baseline":"middle"},
     "encoding":{"x":{"field":"x","type":"quantitative","axis":null},"y":{"field":"y","type":"quantitative","axis":null},"text":{"field":"t"}}}
   ]}
 ],"spacing":45,"bounds":"flush","resolve":{"scale":{"fill":"independent"},"legend":{"fill":"independent"}}}
],"spacing":26,"bounds":"flush","resolve":{"scale":{"fill":"independent"},"legend":{"fill":"independent"}}}
],
"config":{
 "font":"Liberation Sans",
 "view":{"stroke":null},
 "axis":{"grid":false,"labelOverlap":false,"domainColor":"black","tickColor":"black","labelColor":"black","titleColor":"black","labelFont":"Liberation Sans","titleFont":"Liberation Sans","labelFontWeight":"bold","titleFontWeight":"bold","labelFontSize":12,"titleFontSize":12,"domainWidth":2.5,"tickWidth":2.5,"tickSize":6},
 "title":{"font":"Liberation Sans","fontWeight":"bold","color":"black"},
 "text":{"font":"Liberation Sans","color":"black"},
 "legend":{"labelFont":"Liberation Sans"}
}
}
